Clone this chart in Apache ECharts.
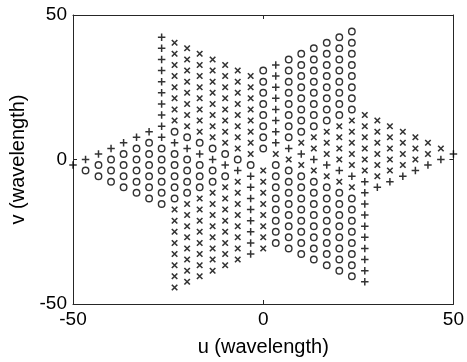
<!DOCTYPE html>
<html>
<head>
<meta charset="utf-8">
<script src="https://cdn.jsdelivr.net/npm/echarts@6/dist/echarts.min.js"></script>
<style>
html,body{margin:0;padding:0;background:#fff;}
#chart{width:467px;height:362px;}
</style>
</head>
<body>
<div id="chart"></div>
<script>
// Axis ticks
const xTicks = [-50, 0, 50];
const yTicks = [-50, 0, 50];

// Circles: [u, [v values]] per column
const circleCols = [
  [-46.7, [-3.8]],
  [-43.3, [-1.9, -5.8]],
  [-40, [0, -3.8, -7.7]],
  [-36.7, [1.9, -1.9, -5.8, -9.6]],
  [-33.3, [3.8, 0, -3.8, -7.7, -11.5]],
  [-30, [5.8, 1.9, -1.9, -5.8, -9.6, -13.5]],
  [-26.7, [3.8, 0, -3.8, -7.7, -11.5, -15.4]],
  [-23.3, [9.6, 1.9, -1.9, -5.8, -9.6, -13.5]],
  [-20, [7.7, 0, -3.8, -7.7, -11.5]],
  [-16.7, [5.8, -1.9, -5.8, -9.6]],
  [-13.3, [3.8, -3.8, -7.7]],
  [-10, [1.9, -5.8]],
  [-6.7, [0]],
  [-3.3, [-1.9]],
  [0, [3.8, 7.7, 11.5, 15.4, 19.2, 23.1, 26.9, 30.8]],
  [3.3, [-1.9, -5.8, -9.6, -13.5, -17.3, -21.2, -25.0, -28.9]],
  [6.7, [7.7, 11.5, 15.4, 19.2, 23.1, 26.9, 30.8, 34.6, -3.8, -7.7, -11.5, -15.4, -19.2, -23.1, -26.9, -30.8]],
  [10, [9.6, 13.5, 17.3, 21.2, 25.0, 28.9, 32.7, 36.6, -5.8, -9.6, -13.5, -17.3, -21.2, -25.0, -28.9, -32.7]],
  [13.3, [11.5, 15.4, 19.2, 23.1, 26.9, 30.8, 34.6, 38.5, -7.7, -11.5, -15.4, -19.2, -23.1, -26.9, -30.8, -34.6]],
  [16.7, [13.5, 17.3, 21.2, 25.0, 28.9, 32.7, 36.6, 40.4, -9.6, -13.5, -17.3, -21.2, -25.0, -28.9, -32.7, -36.6]],
  [20, [15.4, 19.2, 23.1, 26.9, 30.8, 34.6, 38.5, 42.3, -11.5, -15.4, -19.2, -23.1, -26.9, -30.8, -34.6, -38.5]],
  [23.3, [17.3, 21.2, 25.0, 28.9, 32.7, 36.6, 40.4, 44.3, -13.5, -17.3, -21.2, -25.0, -28.9, -32.7, -36.6, -40.4]]
];

// Crosses: [u, [v values]] per column
const crossCols = [
  [46.7, [3.8]],
  [43.3, [1.9, 5.8]],
  [40, [0, 3.8, 7.7]],
  [36.7, [-1.9, 1.9, 5.8, 9.6]],
  [33.3, [-3.8, 0, 3.8, 7.7, 11.5]],
  [30, [-5.8, -1.9, 1.9, 5.8, 9.6, 13.5]],
  [26.7, [-3.8, 0, 3.8, 7.7, 11.5, 15.4]],
  [23.3, [-9.6, -1.9, 1.9, 5.8, 9.6, 13.5]],
  [20, [-7.7, 0, 3.8, 7.7, 11.5]],
  [16.7, [-5.8, 1.9, 5.8, 9.6]],
  [13.3, [-3.8, 3.8, 7.7]],
  [10, [-1.9, 5.8]],
  [6.7, [0]],
  [3.3, [1.9]],
  [0, [-3.8, -7.7, -11.5, -15.4, -19.2, -23.1, -26.9, -30.8]],
  [-3.3, [1.9, 5.8, 9.6, 13.5, 17.3, 21.2, 25.0, 28.9]],
  [-6.7, [-7.7, -11.5, -15.4, -19.2, -23.1, -26.9, -30.8, -34.6, 3.8, 7.7, 11.5, 15.4, 19.2, 23.1, 26.9, 30.8]],
  [-10, [-9.6, -13.5, -17.3, -21.2, -25.0, -28.9, -32.7, -36.6, 5.8, 9.6, 13.5, 17.3, 21.2, 25.0, 28.9, 32.7]],
  [-13.3, [-11.5, -15.4, -19.2, -23.1, -26.9, -30.8, -34.6, -38.5, 7.7, 11.5, 15.4, 19.2, 23.1, 26.9, 30.8, 34.6]],
  [-16.7, [-13.5, -17.3, -21.2, -25.0, -28.9, -32.7, -36.6, -40.4, 9.6, 13.5, 17.3, 21.2, 25.0, 28.9, 32.7, 36.6]],
  [-20, [-15.4, -19.2, -23.1, -26.9, -30.8, -34.6, -38.5, -42.3, 11.5, 15.4, 19.2, 23.1, 26.9, 30.8, 34.6, 38.5]],
  [-23.3, [-17.3, -21.2, -25.0, -28.9, -32.7, -36.6, -40.4, -44.3, 13.5, 17.3, 21.2, 25.0, 28.9, 32.7, 36.6, 40.4]]
];

// Plus signs: [u, [v values]] per column
const plusCols = [
  [-50, [-1.9]],
  [-46.7, [0]],
  [-43.3, [1.9]],
  [-40, [3.8]],
  [-36.7, [5.8]],
  [-33.3, [7.7]],
  [-30, [9.6]],
  [-26.7, [7.7, 11.5, 15.4, 19.2, 23.1, 26.9, 30.8, 34.6, 38.5, 42.3]],
  [-23.3, [5.8]],
  [-20, [3.8]],
  [-16.7, [1.9]],
  [-13.3, [0]],
  [-10, [-1.9]],
  [-6.7, [-3.8]],
  [-3.3, [-5.8, -9.6, -13.5, -17.3, -21.2, -25.0, -28.9, -32.7]],
  [3.3, [5.8, 9.6, 13.5, 17.3, 21.2, 25.0, 28.9, 32.7]],
  [6.7, [3.8]],
  [10, [1.9]],
  [13.3, [0]],
  [16.7, [-1.9]],
  [20, [-3.8]],
  [23.3, [-5.8]],
  [26.7, [-7.7, -11.5, -15.4, -19.2, -23.1, -26.9, -30.8, -34.6, -38.5, -42.3]],
  [30, [-9.6]],
  [33.3, [-7.7]],
  [36.7, [-5.8]],
  [40, [-3.8]],
  [43.3, [-1.9]],
  [46.7, [0]],
  [50, [1.9]]
];

function toPoints(cols) {
  const pts = [];
  cols.forEach(function (c) { c[1].forEach(function (v) { pts.push([c[0], v]); }); });
  return pts;
}

const FONT = 'Liberation Sans, Arial, sans-serif';
const AX = '#262626';

function baseAxis(pos, showLabel) {
  return {
    type: 'value', position: pos, min: -50, max: 50, interval: 50,
    axisLine: { show: true, onZero: false, lineStyle: { color: AX, width: 1 } },
    axisTick: { show: true, inside: true, length: 4, lineStyle: { color: AX, width: 1 } },
    splitLine: { show: false },
    axisLabel: { show: showLabel, color: '#000', fontSize: 19, fontFamily: FONT, margin: 6, showMinLabel: true, showMaxLabel: true }
  };
}

const chart = echarts.init(document.getElementById('chart'), null, { renderer: 'canvas' });
const xMain = baseAxis('bottom', true);
xMain.name = 'u (wavelength)';
xMain.nameLocation = 'middle';
xMain.nameGap = 33;
xMain.nameTextStyle = { color: '#000', fontSize: 20, fontFamily: FONT };
const yMain = baseAxis('left', true);
yMain.name = 'v (wavelength)';
yMain.nameLocation = 'middle';
yMain.nameGap = 41;
yMain.nameTextStyle = { color: '#000', fontSize: 20, fontFamily: FONT };

chart.setOption({
  animation: false,
  backgroundColor: '#fff',
  grid: { left: 73, top: 15, width: 382, height: 291, containLabel: false },
  xAxis: [xMain, baseAxis('top', false)],
  yAxis: [yMain, baseAxis('right', false)],
  series: [
    { type: 'scatter', xAxisIndex: 0, yAxisIndex: 0, clip: false, symbol: 'circle', symbolSize: 6.5,
      itemStyle: { color: 'rgba(0,0,0,0)', borderColor: '#000', borderWidth: 1.4 }, data: toPoints(circleCols) },
    { type: 'scatter', xAxisIndex: 0, yAxisIndex: 0, clip: false, symbol: 'path://M0,0L10,10M10,0L0,10', symbolSize: 5.5,
      itemStyle: { color: 'none', borderColor: '#000', borderWidth: 1.6 }, data: toPoints(crossCols) },
    { type: 'scatter', xAxisIndex: 0, yAxisIndex: 0, clip: false, symbol: 'path://M5,0L5,10M0,5L10,5', symbolSize: 7.5,
      itemStyle: { color: 'none', borderColor: '#000', borderWidth: 1.5 }, data: toPoints(plusCols) }
  ]
});
</script>
</body>
</html>
